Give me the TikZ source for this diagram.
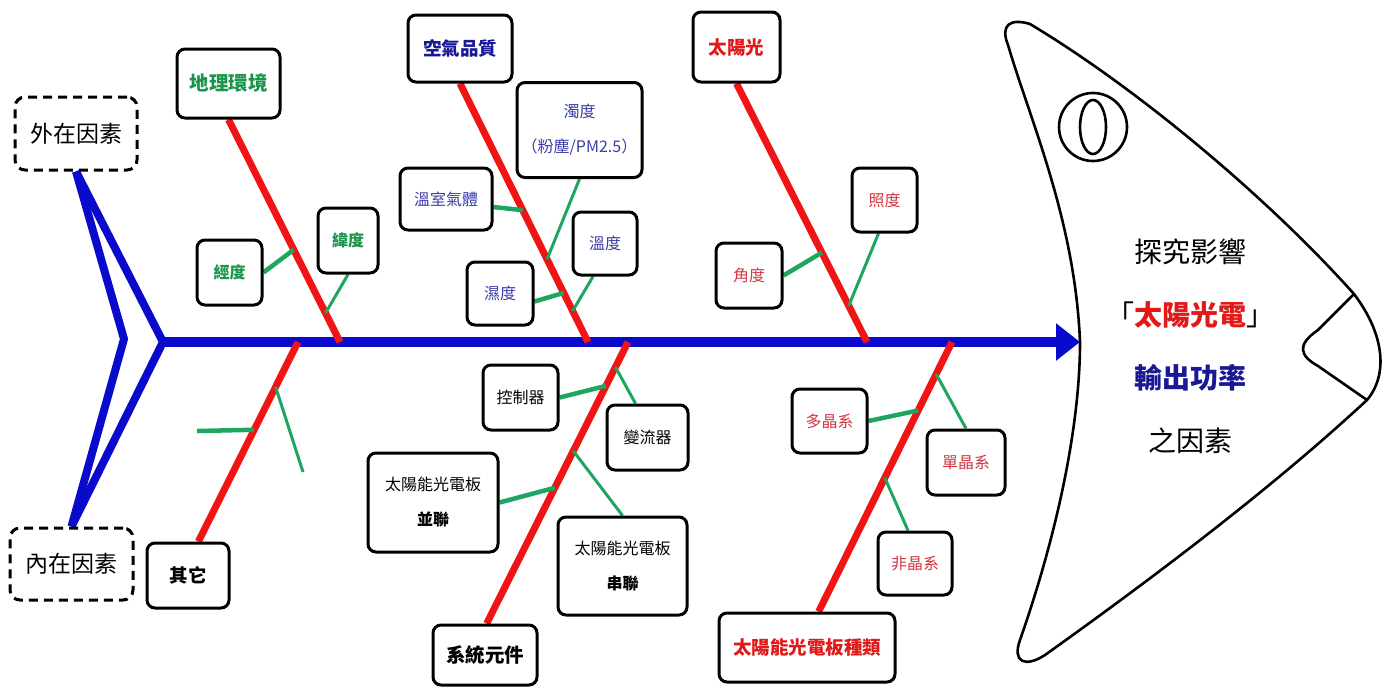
\documentclass[tikz,border=0pt]{standalone}
\usepackage{fontspec}
\setmainfont{Noto Sans CJK TC}
\usetikzlibrary{calc,arrows.meta}
\pgfdeclarelayer{bg}
\pgfsetlayers{bg,main}

\definecolor{spineblue}{RGB}{10,10,205}
\definecolor{bonered}{RGB}{240,20,20}
\definecolor{linkgreen}{RGB}{30,165,95}
\definecolor{txtgreen}{RGB}{25,150,75}
\definecolor{txtnavy}{RGB}{25,25,150}
\definecolor{txtblue}{RGB}{60,60,170}
\definecolor{txtred}{RGB}{225,25,25}
\definecolor{txtlred}{RGB}{210,55,65}

\tikzset{
  box/.style={draw=black, line width=3pt, rounded corners=8pt, fill=white,
    align=center, inner sep=0pt},
  dbox/.style={draw=black, line width=3pt, dash pattern=on 9pt off 6pt,
    rounded corners=10pt, fill=white, align=center, inner sep=0pt},
  bone/.style={draw=bonered, line width=7pt},
  link/.style={draw=linkgreen, line width=3pt},
  thicklink/.style={draw=linkgreen, line width=4.5pt},
  spine/.style={draw=spineblue, line width=10pt},
  tailline/.style={draw=spineblue, line width=8pt, line join=round},
  headline/.style={draw=black, line width=2.6pt},
  sm/.style={font=\fontsize{16}{35}\selectfont},
  md/.style={font=\fontsize{18.5}{22}\selectfont\bfseries},
  lg/.style={font=\fontsize{23}{28}\selectfont},
}

\begin{document}
\begin{tikzpicture}[x=1pt,y=-1pt]
\useasboundingbox (0,0) rectangle (1394,688);

% ---- tail labels ----
\node[dbox, lg, minimum width=122pt, minimum height=73pt] (wz) at (76,133.5) {外在因素};
\node[dbox, lg, minimum width=123pt, minimum height=72pt] (nz) at (71.5,564) {內在因素};

% ---- upper main causes ----
\node[box, text=txtgreen, font=\fontsize{19.5}{22}\selectfont\bfseries, minimum width=103pt, minimum height=69pt] (dl) at (228.5,83.5) {地理環境};
\node[box, text=txtgreen, font=\fontsize{16}{20}\selectfont\bfseries, minimum width=65pt, minimum height=65pt] (jd) at (229.5,272.5) {經度};
\node[box, text=txtgreen, font=\fontsize{16}{20}\selectfont\bfseries, minimum width=60pt, minimum height=65pt] (wd) at (348,240.5) {緯度};

\node[box, md, text=txtnavy, minimum width=104pt, minimum height=67pt] (kq) at (460,48.5) {空氣品質};
\node[box, sm, text=txtblue, minimum width=125pt, minimum height=95pt] (zd) at (579.5,130) {濁度\\（粉塵/PM2.5）};
\node[box, sm, text=txtblue, minimum width=92pt, minimum height=62pt] (ws) at (446,199) {溫室氣體};
\node[box, sm, text=txtblue, minimum width=64pt, minimum height=63pt] (wdu) at (605,243.5) {溫度};
\node[box, sm, text=txtblue, minimum width=66pt, minimum height=63pt] (sd) at (500,293.5) {濕度};

\node[box, md, text=txtred, minimum width=87pt, minimum height=70pt] (ty) at (736.5,47) {太陽光};
\node[box, sm, text=txtlred, minimum width=65pt, minimum height=64pt] (zdu) at (884.5,200) {照度};
\node[box, sm, text=txtlred, minimum width=66pt, minimum height=65pt] (jdu) at (749,275.5) {角度};

% ---- lower main causes ----
\node[box, md, minimum width=82pt, minimum height=65pt] (qt) at (188,575.5) {其它};

\node[box, font=\fontsize{19.5}{22}\selectfont\bfseries, minimum width=104pt, minimum height=60pt] (xt) at (485,655) {系統元件};
\node[box, sm, minimum width=75pt, minimum height=65pt] (kz) at (520.5,397.5) {控制器};
\node[box, sm, minimum width=81pt, minimum height=65pt] (bl) at (647.5,437.5) {變流器};
\node[box, sm, minimum width=130pt, minimum height=99pt] (bing) at (433,502.5) {太陽能光電板\\\textbf{並聯}};
\node[box, sm, minimum width=129pt, minimum height=98pt] (chuan) at (622.5,566) {太陽能光電板\\\textbf{串聯}};

\node[box, md, text=txtred, minimum width=176pt, minimum height=69pt] (zl) at (807,647.5) {太陽能光電板種類};
\node[box, sm, text=txtlred, minimum width=75pt, minimum height=64pt] (dj) at (829.5,421) {多晶系};
\node[box, sm, text=txtlred, minimum width=78pt, minimum height=65pt] (dan) at (966,462.5) {單晶系};
\node[box, sm, text=txtlred, minimum width=74pt, minimum height=63pt] (fj) at (915,563.5) {非晶系};

% ---- fish head ----
\draw[headline] (1008,45) .. controls (1000,25) and (1010,18) .. (1030,24)
  .. controls (1140,90) and (1270,200) .. (1354,294)
  .. controls (1385,335) and (1388,375) .. (1367,400)
  .. controls (1270,490) and (1150,580) .. (1045,655)
  .. controls (1025,668) and (1012,662) .. (1020,640)
  .. controls (1055,540) and (1080,430) .. (1080,342)
  .. controls (1075,220) and (1030,120) .. cycle;
\draw[headline] (1354,294) -- (1318,330) .. controls (1296,345) and (1300,356) .. (1318,366) -- (1367,400);
\draw[headline] (1093,127) circle[radius=34];
\draw[headline] (1093,127) ellipse[x radius=13, y radius=27];
\node[align=center, font=\fontsize{28}{63}\selectfont] (goal) at (1190,346)
  {探究影響\\「{\color{txtred}\bfseries 太陽光電}」\\{\color{txtnavy}\bfseries 輸出功率}\\之因素};

% ---- spine and bones ----
\coordinate (tailO) at (163,342);
\coordinate (tailI) at (124,339);
\coordinate (headtip) at (1080,342);
\coordinate (s1) at (340,342);
\coordinate (s2) at (588,342);
\coordinate (s3) at (867,342);
\coordinate (b1) at (298,342);
\coordinate (b2) at (628,342);
\coordinate (b3) at (952,342);
\coordinate (qtA) at (197,431);
\coordinate (qtB) at (303,472);

\begin{pgfonlayer}{bg}
  \draw[tailline] (wz.south) -- (tailO) -- (nz.north);
  \draw[tailline] (wz.south) -- (tailI) -- (nz.north);
  \draw[spine, -{Triangle[length=24pt,width=36pt]}] (tailO) -- (headtip);

  \draw[bone] (dl.south) -- (s1);
  \draw[bone] (kq.south) -- (s2);
  \draw[bone] (ty.south) -- (s3);
  \draw[bone] (qt.73) -- (b1);
  \draw[bone] (xt.87) -- (b2);
  \draw[bone] (zl.72) -- (b3);

  % sub-causes
  \draw[thicklink] (jd.east) -- ($(dl.south)!0.585!(s1)$);
  \draw[link] (wd.south) -- ($(dl.south)!0.87!(s1)$);

  \draw[thicklink] ($(ws.east)+(0,8)$) -- ($(kq.south)!0.49!(s2)$);
  \draw[link] (zd.south) -- ($(kq.south)!0.68!(s2)$);
  \draw[thicklink] ($(sd.east)+(0,8)$) -- ($(kq.south)!0.81!(s2)$);
  \draw[link] ($(wdu.south)+(-12,0)$) -- ($(kq.south)!0.88!(s2)$);

  \draw[thicklink] (jdu.east) -- ($(ty.south)!0.654!(s3)$);
  \draw[link] ($(zdu.south)+(-6,0)$) -- ($(ty.south)!0.86!(s3)$);

  \draw[thicklink] (qtA) -- ($(qt.73)!0.56!(b1)$);
  \draw[link] ($(qt.73)!0.775!(b1)$) -- (qtB);

  \draw[thicklink] (kz.east) -- ($(xt.87)!0.844!(b2)$);
  \draw[link] ($(bl.north)+(-12,0)$) -- ($(xt.87)!0.911!(b2)$);
  \draw[thicklink] (bing.east) -- ($(xt.87)!0.482!(b2)$);
  \draw[link] (chuan.north) -- ($(xt.87)!0.613!(b2)$);

  \draw[thicklink] (dj.east) -- ($(zl.72)!0.746!(b3)$);
  \draw[link] (dan.north) -- ($(zl.72)!0.881!(b3)$);
  \draw[link] ($(fj.north)+(-7,0)$) -- ($(zl.72)!0.496!(b3)$);
\end{pgfonlayer}
\end{tikzpicture}
\end{document}
